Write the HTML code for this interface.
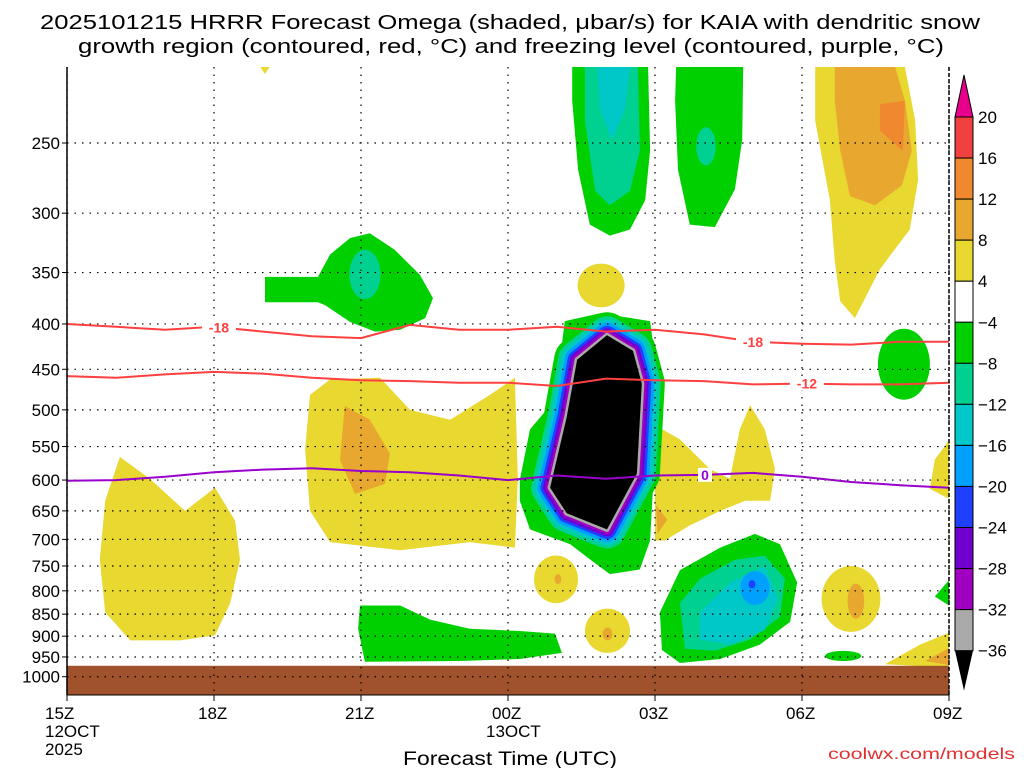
<!DOCTYPE html>
<html><head><meta charset="utf-8"><style>
html,body{margin:0;padding:0;background:#fff;width:1024px;height:768px;overflow:hidden}
svg{display:block;font-family:"Liberation Sans",sans-serif}
</style></head><body>
<svg id="chart" width="1024" height="768" viewBox="0 0 1024 768">
<g font-size="20" fill="#000">
<text x="40" y="29" textLength="940" lengthAdjust="spacingAndGlyphs">2025101215 HRRR Forecast Omega (shaded, μbar/s) for KAIA with dendritic snow</text>
<text x="78" y="53" textLength="866" lengthAdjust="spacingAndGlyphs">growth region (contoured, red, °C) and freezing level (contoured, purple, °C)</text>
</g>
<g id="shades"></g>
<g id="grid"></g>
<g id="lines"></g>
<g id="axes"></g>
<g id="cbar"></g>
<g font-size="17" fill="#000">
<text x="45" y="719">15Z</text><text x="45" y="737">12OCT</text><text x="45" y="755">2025</text>
<text x="198" y="719">18Z</text><text x="345" y="719">21Z</text><text x="492" y="719">00Z</text>
<text x="486" y="737">13OCT</text>
<text x="639" y="719">03Z</text><text x="786" y="719">06Z</text><text x="933" y="719">09Z</text>
</g>
<text x="403" y="765" font-size="19" textLength="214" lengthAdjust="spacingAndGlyphs">Forecast Time (UTC)</text>
<text x="828" y="759" font-size="16" fill="#e03030" textLength="187" lengthAdjust="spacingAndGlyphs">coolwx.com/models</text>
</svg>
<script>
const NS='http://www.w3.org/2000/svg';
const hours=[0,1,2,3,4,5,6,7,8,9,10,11,12,13,14,15,16,17,18];
const dgzMinus18=[400,403,406,403,408,413,415,401,406,406,403,408,406,411,419,421,422,419,419];
const dgzMinus12=[458,460,456,453,455,460,463,464,466,466,470,461,463,464,468,467,468,468,466];
const freezing0=[601,600,595,588,584,582,586,588,593,600,593,598,593,592,589,595,603,608,612];
const pressureTicks=[250,300,350,400,450,500,550,600,650,700,750,800,850,900,950,1000];
const timeTicks=[0,3,6,9,12,15,18];
const cbarLabels=['20','16','12','8','4','−4','−8','−12','−16','−20','−24','−28','−32','−36'];
const cbarColors=['#f04040','#f08830','#e8a830','#e8d830','#ffffff','#00d000','#00d090','#00c8c8','#00a0ff','#2040ff','#7000d0','#a000c0','#aaaaaa'];
const C={y:'#e8d830',o1:'#e8a830',o2:'#f08830',g:'#00d000',t:'#00d090',c:'#00c8c8',lb:'#00a0ff',b:'#2040ff'};
const polys=[
['yellow-left',C.y,[[1.08,565],[1.69,598],[2.41,650],[3.02,612],[3.43,667],[3.53,738],[3.33,826],[3.02,898],[2.31,910],[1.29,910],[0.78,846],[0.67,738],[0.78,633]]],
['yellow-mid',C.y,[[4.96,481],[5.37,462],[6.39,460],[7.0,500],[7.82,513],[8.63,481],[9.14,460],[9.2,598],[9.14,715],[8.22,705],[6.8,720],[5.37,705],[4.96,650],[4.86,554]]],
['orange-mid',C.o1,[[5.67,495],[6.18,513],[6.59,560],[6.49,606],[5.88,622],[5.57,570]]],
['yellow-03z',C.y,[[12.0,520],[12.51,540],[13.12,583],[13.53,598],[13.73,526],[13.94,494],[14.24,526],[14.45,583],[14.35,633],[13.84,633],[13.33,650],[12.71,675],[12.2,702],[12.0,702]]],
['orange-03z',C.o1,[[12.02,640],[12.25,665],[12.05,690]]],
['yellow-bottom-right',C.y,[[16.69,968],[17.41,920],[18,892],[18,977]]],
['orange-bottom-right',C.o1,[[17.51,960],[18,928],[18,970]]],
['yellow-right-edge',C.y,[[18,541],[17.71,569],[17.61,614],[18,630]]],
['yellow-top-right',C.y,[[15.27,205],[17.1,205],[17.31,236],[17.37,275],[17.2,313],[16.59,347],[16.08,394],[15.78,377],[15.67,340],[15.57,290],[15.27,236]]],
['orange-top-right',C.o1,[[15.67,205],[16.9,205],[17.1,224],[17.24,255],[17.04,279],[16.49,294],[15.98,287],[15.78,255],[15.67,224]]],
['red-orange-top-right',C.o2,[[16.59,226],[17.1,224],[17.06,255],[16.8,248],[16.59,242]]],
['yellow-top-tiny',C.y,[[3.94,205],[4.14,205],[4.04,209]]],
['green-350',C.g,[[4.04,354],[5.12,354],[5.37,334],[5.78,320],[6.18,316],[6.69,330],[7.2,352],[7.47,374],[7.31,394],[6.8,406],[6.29,408],[5.78,398],[5.27,381],[5.12,378],[4.04,378]]],
['green-top-1',C.g,[[10.31,205],[11.86,205],[11.9,255],[11.8,290],[11.49,313],[11.08,318],[10.67,309],[10.43,268],[10.31,224]]],
['teal-top-1',C.t,[[10.57,205],[11.65,205],[11.69,255],[11.49,283],[11.08,294],[10.78,283],[10.57,236]]],
['cyan-top-1',C.c,[[10.82,205],[11.49,205],[11.39,229],[11.12,248],[10.88,229]]],
['green-top-2',C.g,[[12.43,205],[13.8,205],[13.78,248],[13.63,282],[13.22,311],[12.71,309],[12.47,268],[12.41,224]]],
['green-low-left',C.g,[[5.98,831],[6.8,831],[7.41,862],[8.22,883],[9.24,888],[9.96,894],[10.1,940],[9.24,955],[8.02,960],[6.08,962],[5.94,883]]],
['green-low-mid',C.g,[[12.1,846],[12.51,758],[13.33,715],[14.04,690],[14.55,709],[14.9,783],[14.76,867],[14.14,920],[13.33,955],[12.51,965],[12.14,933]]],
['teal-low-mid',C.t,[[12.51,826],[12.92,775],[13.63,738],[14.24,730],[14.65,775],[14.55,856],[13.94,908],[13.22,935],[12.61,930]]],
['cyan-low-mid',C.c,[[12.92,846],[13.53,783],[14.24,750],[14.51,815],[14.24,886],[13.53,920],[12.92,908]]],
['green-right-edge',C.g,[[18,778],[17.71,812],[18,831]]],
['green-core-outer',C.g,[[9.24,600],[9.45,526],[9.96,487],[10.16,397],[10.88,389],[11.9,397],[12.06,463],[12.0,556],[11.9,702],[11.69,757],[11.08,766],[10.67,737],[10.27,709],[9.45,682],[9.24,633]]]
];
const ellipses=[
['yellow-350',C.y,10.9,0.48,342,383],
['yellow-770',C.y,9.98,0.45,730,826],['orange-770',C.o1,10.02,0.07,766,786],
['yellow-900',C.y,11.03,0.46,838,940],['orange-900',C.o1,11.03,0.1,880,910],
['yellow-800-right',C.y,16.0,0.6,750,890],['orange-800-right',C.o1,16.1,0.17,785,860],
['teal-350',C.t,6.08,0.32,330,375],['teal-top-2',C.t,13.04,0.2,240,265],
['lightblue-low-mid',C.lb,14.04,0.3,760,830],['blue-low-mid',C.b,13.98,0.07,778,795],
['green-right-08z',C.g,17.08,0.53,405,487],['green-small-950',C.g,15.84,0.37,935,960]
];
const coreBlack=[[11.02,412],[11.55,429],[11.73,467],[11.63,590],[11.02,682],[10.2,654],[9.86,612],[10.2,509],[10.41,439]];
const coreRingColors=['#00d000','#00d090','#00c8c8','#00a0ff','#2040ff','#7000d0','#a000c0','#aaaaaa'];
const coreRingWidths=[46,38,31,25,19,14,9,5];
const groundTopP=972;

const X=h=>67+h*49;
const Y=p=>143+385*Math.log(p/250);
function el(tag,attrs,parent){const e=document.createElementNS(NS,tag);for(const k in attrs)e.setAttribute(k,attrs[k]);parent.appendChild(e);return e;}
const svgRoot=document.getElementById('chart');
const defs=el('defs',{},svgRoot);
const clip=el('clipPath',{id:'plotclip'},defs);
el('rect',{x:67,y:67,width:882,height:628},clip);
const shades=document.getElementById('shades');shades.setAttribute('clip-path','url(#plotclip)');
const pts=a=>a.map(q=>X(q[0]).toFixed(1)+','+Y(q[1]).toFixed(1)).join(' ');
polys.forEach(s=>{
 const e=el('polygon',{points:pts(s[2]),fill:s[1]},shades);
 
 
});
ellipses.forEach(s=>{
 const y1=Y(s[4]),y2=Y(s[5]);
 const e=el('ellipse',{cx:X(s[2]),cy:(y1+y2)/2,rx:X(s[2]+s[3])-X(s[2]),ry:(y2-y1)/2,fill:s[1]},shades);
 
 
});
coreRingColors.forEach((c,i)=>{
 const e=el('polygon',{points:pts(coreBlack),fill:c,stroke:c,'stroke-width':coreRingWidths[i],'stroke-linejoin':'round'},shades);
 
 
});
const core=el('polygon',{points:pts(coreBlack),fill:'#000'},shades);


const gnd=el('rect',{x:67,y:Y(groundTopP),width:882,height:695-Y(groundTopP),fill:'#a0522d'},shades);



const grid=document.getElementById('grid');
pressureTicks.forEach(p=>{
 const gl=el('line',{x1:67,x2:949,y1:Y(p),y2:Y(p),stroke:'#000','stroke-width':1.2,'stroke-dasharray':'1.5 6'},grid);
 
 
});
timeTicks.forEach(h=>{
 const gl=el('line',{x1:X(h),x2:X(h),y1:67,y2:695,stroke:'#000','stroke-width':1.2,'stroke-dasharray':'1.5 6'},grid);
 
 
});

const lines=document.getElementById('lines');
function contour(vals,color,name,labels){
 const d=hours.map((h,i)=>(i?'L':'M')+X(h).toFixed(1)+','+Y(vals[i]).toFixed(1)).join(' ');
 const e=el('path',{d:d,fill:'none',stroke:color,'stroke-width':2},lines);
 
 
 labels.forEach(L=>{
  const i=Math.floor(L[0]),f=L[0]-i;const p=vals[i]+(vals[Math.min(i+1,vals.length-1)]-vals[i])*f;
  const x=X(L[0]),y=Y(p);
  el('rect',{x:x-L[1].length*5-2,y:y-7,width:L[1].length*10+4,height:14,fill:'#fff'},lines);
  const t=el('text',{x:x,y:y+5,'font-size':14,'font-weight':'bold','text-anchor':'middle',fill:color},lines);
  t.textContent=L[1];
  
  
 });
}
contour(dgzMinus18,'#ff4040','contour-minus18',[[3.1,'-18'],[14.0,'-18']]);
contour(dgzMinus12,'#ff4040','contour-minus12',[[15.1,'-12']]);
contour(freezing0,'#9900cc','contour-freezing',[[13.02,'0']]);

const axes=document.getElementById('axes');
el('line',{x1:67,x2:67,y1:67,y2:695,stroke:'#000','stroke-width':1.5},axes);
el('line',{x1:949,x2:949,y1:67,y2:695,stroke:'#000','stroke-width':1.5,'stroke-dasharray':'4 2'},axes);
el('line',{x1:67,x2:949,y1:695,y2:695,stroke:'#000','stroke-width':1},axes);
pressureTicks.forEach(p=>{
 el('line',{x1:62,x2:67,y1:Y(p),y2:Y(p),stroke:'#000'},axes);
 const t=el('text',{x:60,y:Y(p)+6,'font-size':17,'text-anchor':'end'},axes);
 t.textContent=p;
 
 
});
timeTicks.forEach(h=>{el('line',{x1:X(h),x2:X(h),y1:695,y2:701,stroke:'#000'},axes);});

const cb=document.getElementById('cbar');
const cbTop=75,cbB0=117,cbBh=41.05,cbX=955,cbW=18;
el('polygon',{points:`${cbX},${cbB0} ${cbX+cbW},${cbB0} ${cbX+cbW/2},${cbTop}`,fill:'#e8008c',stroke:'#000'},cb);
cbarColors.forEach((c,i)=>{
 const r=el('rect',{x:cbX,y:cbB0+i*cbBh,width:cbW,height:cbBh,fill:c,stroke:'#000'},cb);
 
 
});
const cbEnd=cbB0+cbarColors.length*cbBh;
el('polygon',{points:`${cbX},${cbEnd} ${cbX+cbW},${cbEnd} ${cbX+cbW/2},${cbEnd+40}`,fill:'#000'},cb);
cbarLabels.forEach((s,i)=>{
 const t=el('text',{x:978,y:cbB0+i*cbBh+6,'font-size':17},cb);
 t.textContent=s;
 
 
});
</script>
</body></html>
